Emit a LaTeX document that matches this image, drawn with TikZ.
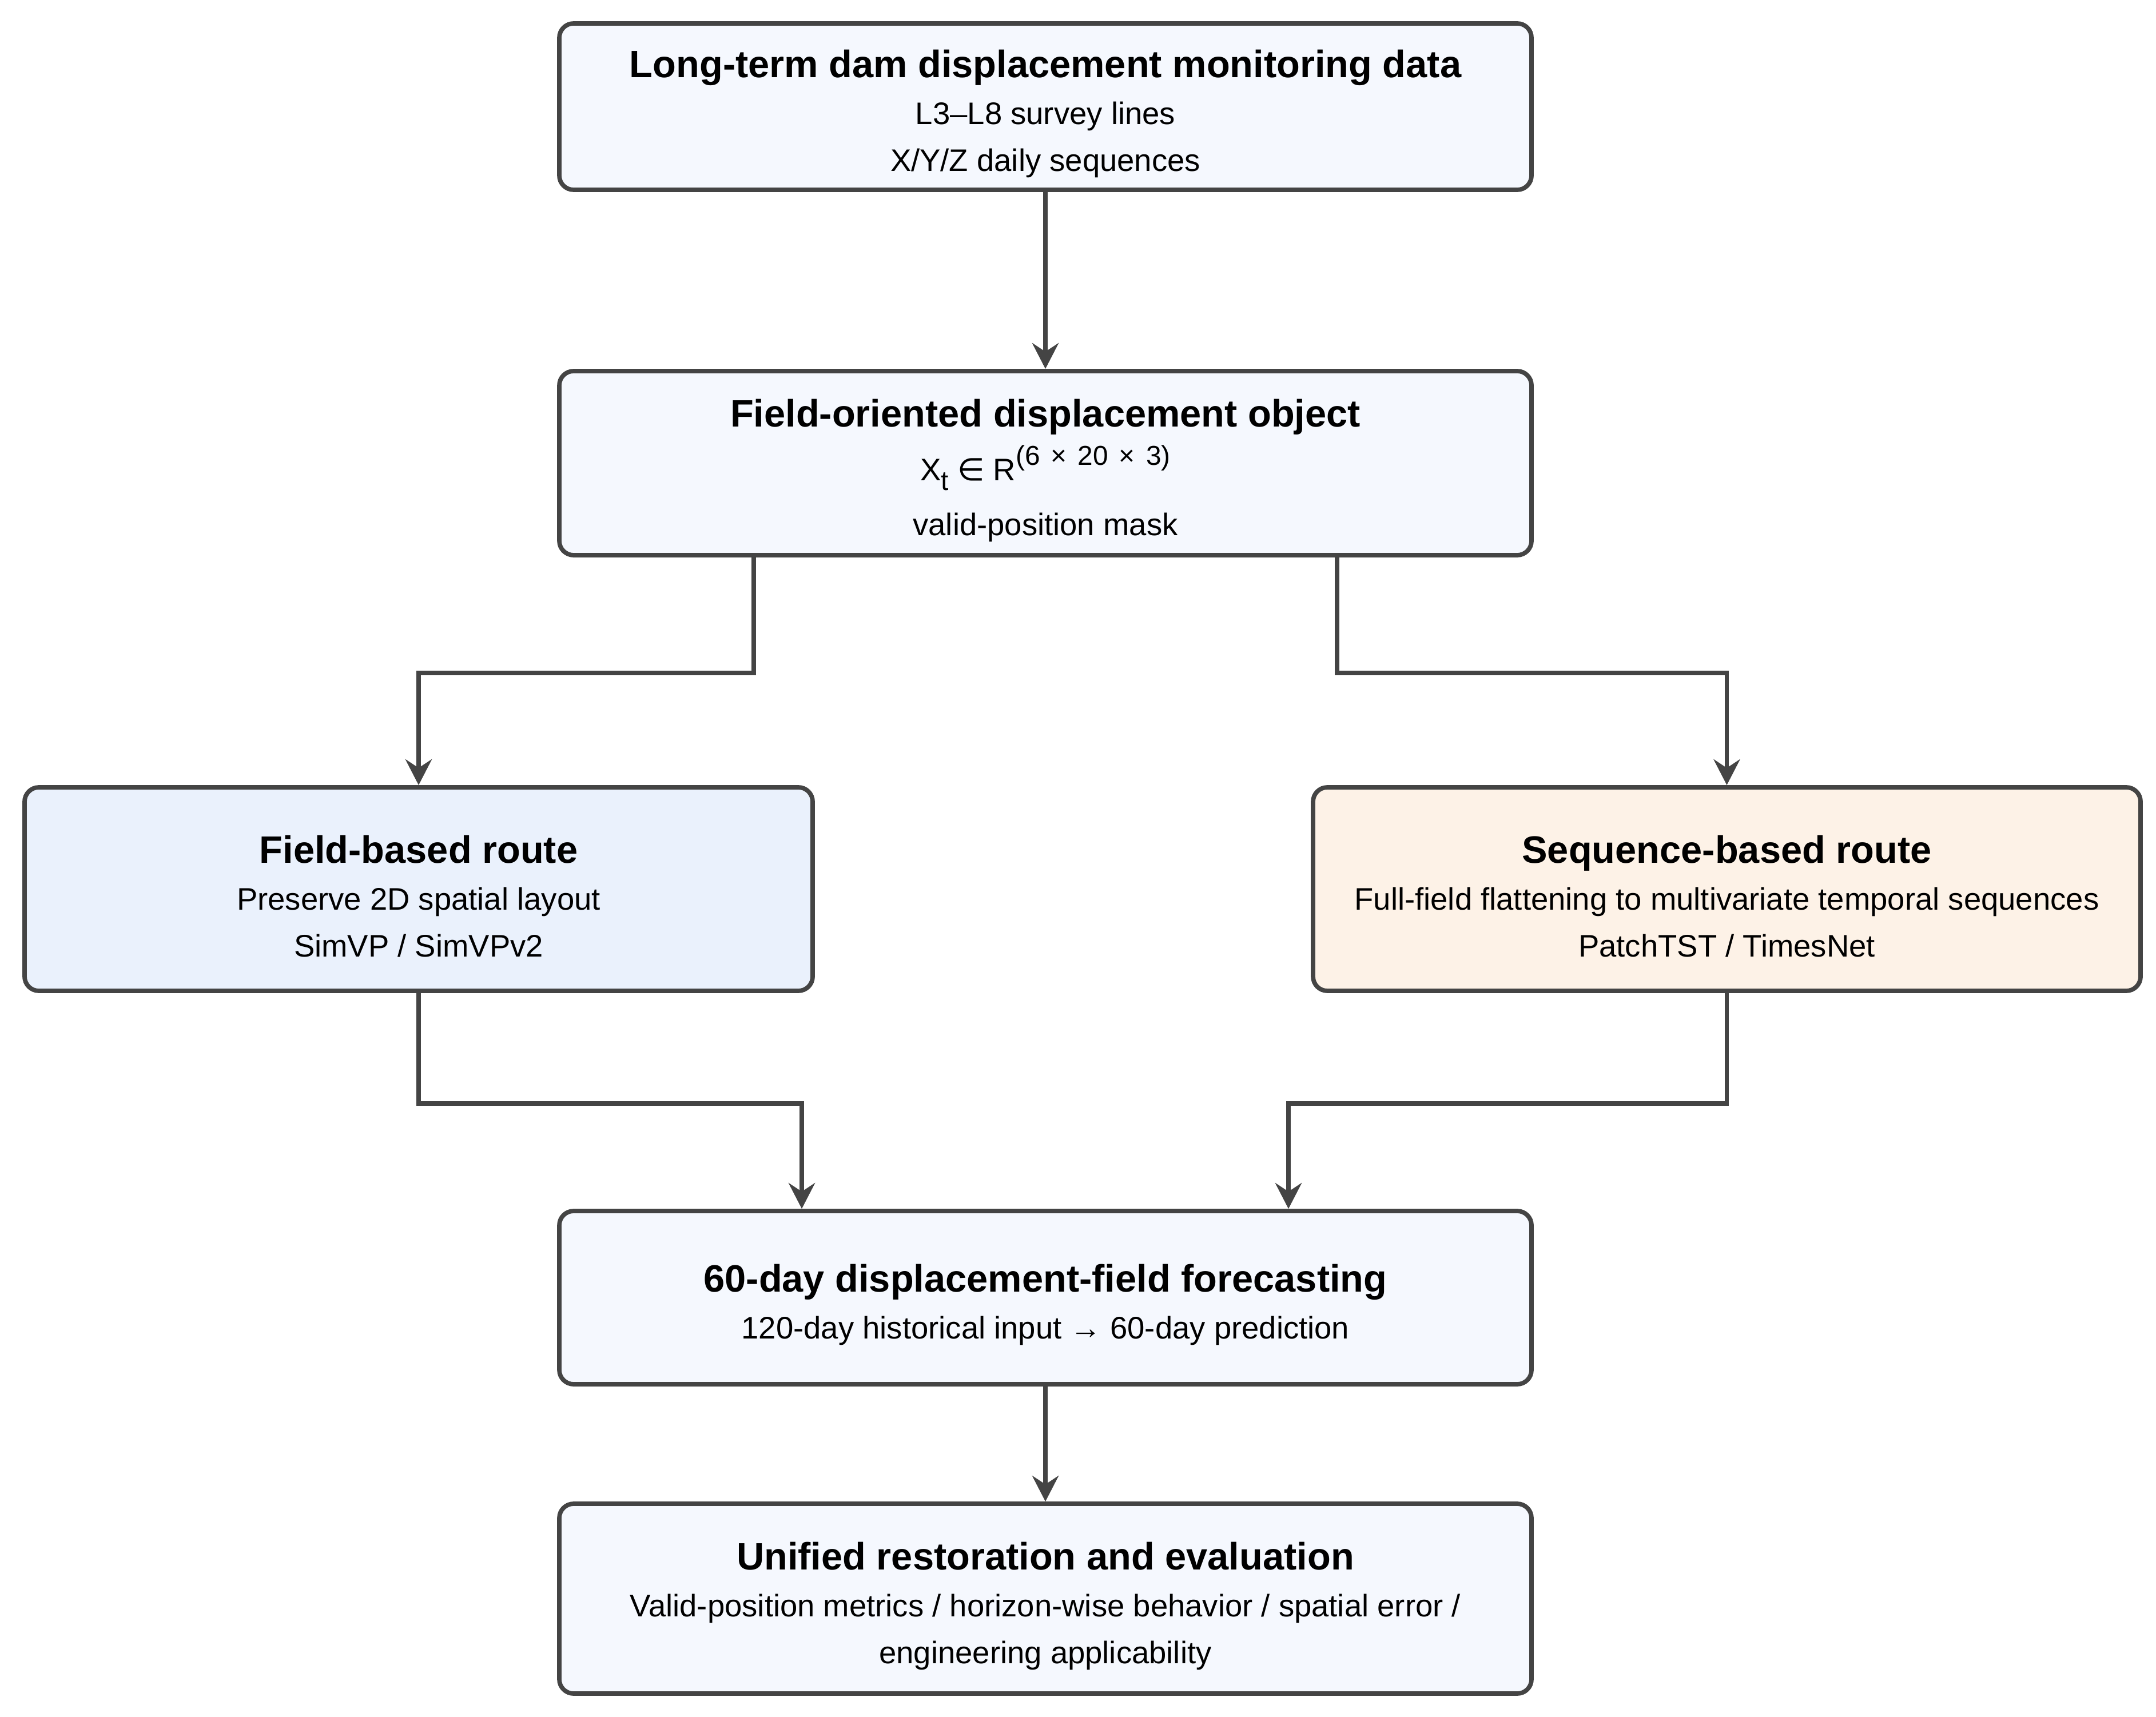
\documentclass[tikz,border=0pt]{standalone}
\usepackage{fontspec}
\setmainfont{Liberation Sans}
\newfontfamily\symfont{DejaVu Sans}
\usepackage{xcolor}
\usepackage{tikz}
\usetikzlibrary{arrows.meta}

\definecolor{boxline}{HTML}{444444}
\definecolor{paleblue}{HTML}{F5F8FE}
\definecolor{fieldblue}{HTML}{EAF1FC}
\definecolor{seqpeach}{HTML}{FDF2E7}

\tikzset{
    box/.style={draw=boxline, line width=2.2pt, rounded corners=0.25cm, fill=paleblue, align=center, minimum width=17cm, inner sep=0pt, font=\fontsize{15.5}{23.3}\selectfont},
    flow/.style={draw=boxline, line width=2.2pt, -{Stealth[length=0.45cm, width=0.46cm, inset=0.15cm]}}
}
\newcommand{\boxtitle}[1]{\rule{0pt}{21pt}{\fontsize{19}{23}\selectfont\bfseries #1}}
\newcommand{\smallidx}[2]{\raisebox{#1}{\fontsize{13.6}{15}\selectfont #2}}
\newcommand{\gap}{\hspace{0.4em}}

\begin{document}
\begin{tikzpicture}
        \useasboundingbox (0,0) rectangle (37.70,-30.03);

        \node[box, minimum height=2.91cm] (data) at (18.28,-1.865) {\boxtitle{Long-term dam displacement monitoring data}\\ L3–L8 survey lines\\ X/Y/Z daily sequences};
        \node[box, minimum height=3.22cm] (field) at (18.28,-8.10) {\boxtitle{Field-oriented displacement object}\\[3.5pt] X\smallidx{-4.8pt}{t} {\symfont ∈} R\smallidx{7.7pt}{(6\gap×\gap20\gap×\gap3)}\\[4pt] valid-position mask};
        \node[box, fill=fieldblue, minimum width=13.78cm, minimum height=3.56cm] (fieldroute) at (7.32,-15.55) {\boxtitle{Field-based route}\\ Preserve 2D spatial layout\\ SimVP / SimVPv2};
        \node[box, fill=seqpeach, minimum width=14.47cm, minimum height=3.56cm] (seqroute) at (30.195,-15.55) {\boxtitle{Sequence-based route}\\ Full-field flattening to multivariate temporal sequences\\ PatchTST / TimesNet};
        \node[box, minimum height=3.03cm] (forecast) at (18.28,-22.695) {\boxtitle{60-day displacement-field forecasting}\\ 120-day historical input → 60-day prediction};
        \node[box, minimum height=3.32cm] (evaluation) at (18.28,-27.96) {\boxtitle{Unified restoration and evaluation}\\ Valid-position metrics / horizon-wise behavior / spatial error /\\ engineering applicability};


        \draw[flow] (data) -- (field);
        \draw[flow] ([xshift=-5.1cm]field.south) -- ++(0,-2.02) -| (fieldroute.north);
        \draw[flow] ([xshift=5.1cm]field.south) -- ++(0,-2.02) -| (seqroute.north);
        \draw[flow] (fieldroute.south) -- ++(0,-1.93) -| ([xshift=-4.26cm]forecast.north);
        \draw[flow] (seqroute.south) -- ++(0,-1.93) -| ([xshift=4.25cm]forecast.north);
        \draw[flow] (forecast) -- (evaluation);
    \end{tikzpicture}
\end{document}
